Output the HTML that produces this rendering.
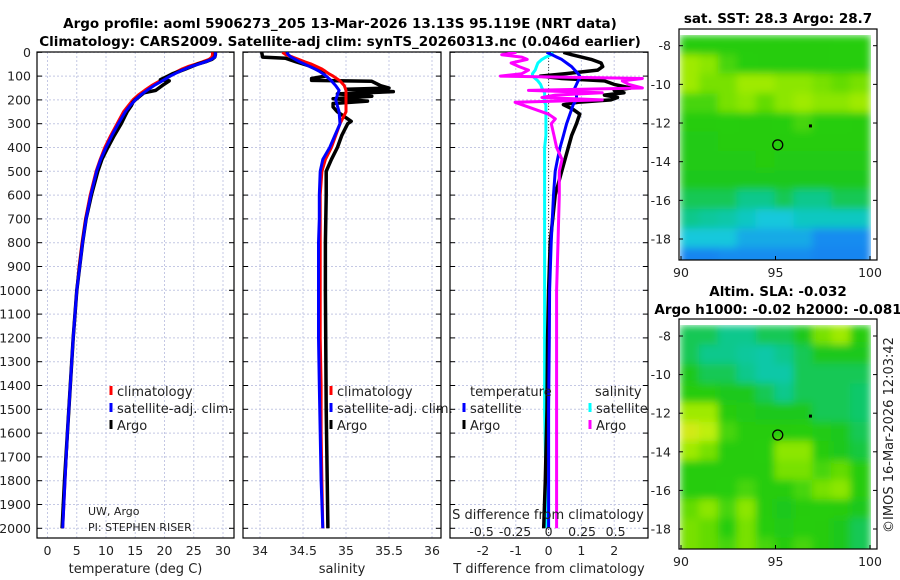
<!DOCTYPE html>
<html><head><meta charset="utf-8">
<style>
html,body{margin:0;padding:0;background:#fff;}
svg{display:block;font-family:"DejaVu Sans","Liberation Sans",sans-serif;}
</style></head>
<body>
<svg id="fig" width="900" height="580" viewBox="0 0 900 580">
<defs>
<filter id="blur1" x="0" y="0" width="1" height="1"><feGaussianBlur stdDeviation="4" edgeMode="duplicate"/></filter>
<clipPath id="clipT"><rect x="37" y="52" width="197" height="486"/></clipPath>
<clipPath id="clipS"><rect x="243" y="52" width="198" height="486"/></clipPath>
<clipPath id="clipD"><rect x="450" y="52" width="198" height="486"/></clipPath>
<clipPath id="clipM1"><rect x="679" y="29" width="198" height="231"/></clipPath>
<clipPath id="clipM2"><rect x="679" y="319" width="198" height="230"/></clipPath>
</defs>
<text x="340" y="28" text-anchor="middle" font-weight="bold" font-size="13.5">Argo profile: aoml 5906273_205 13-Mar-2026 13.13S 95.119E (NRT data)</text>
<text x="340" y="46" text-anchor="middle" font-weight="bold" font-size="13.5">Climatology: CARS2009. Satellite-adj clim: synTS_20260313.nc (0.046d earlier)</text>
<text x="778" y="23" text-anchor="middle" font-weight="bold" font-size="13.5">sat. SST: 28.3 Argo: 28.7</text>
<text x="778" y="296" text-anchor="middle" font-weight="bold" font-size="13.5">Altim. SLA: -0.032</text>
<text x="778" y="314" text-anchor="middle" font-weight="bold" font-size="13.5">Argo h1000: -0.02 h2000: -0.081</text>
<text transform="translate(893,435) rotate(-90)" text-anchor="middle" font-size="13" fill="#222">©IMOS 16-Mar-2026 12:03:42</text>
<g id="layer"></g>
</svg>
<script>
// ---- data ----
const depthsClim = [0,10,20,30,40,50,60,70,80,90,100,120,140,160,180,200,225,250,300,350,400,450,500,600,700,800,900,1000,1200,1400,1600,1800,2000];
const tempClim = [28.2,28.2,28.1,27.6,26.5,25.3,24.0,23.0,22.2,21.4,20.6,19.2,17.8,16.6,15.5,14.6,13.8,13.0,11.9,10.8,9.8,9.0,8.3,7.3,6.5,5.9,5.4,5.0,4.4,3.9,3.4,3.0,2.6];
const tempSat = [28.7,28.7,28.6,28.0,27.0,25.8,24.5,23.5,22.6,21.8,21.0,19.6,18.2,17.0,15.9,15.0,14.1,13.3,12.1,11.0,10.0,9.1,8.4,7.4,6.6,6.0,5.5,5.0,4.4,3.9,3.4,3.0,2.6];
const depthsArgo = [0,10,20,30,40,50,60,70,80,90,100,115,120,140,160,170,180,200,210,225,250,300,350,400,450,500,600,700,800,900,1000,1200,1400,1600,1800,2000];
const tempArgo = [28.7,28.7,28.6,28.1,27.0,25.6,24.6,23.6,22.6,21.4,20.6,19.3,20.8,19.6,18.5,16.5,16.0,15.0,14.6,14.3,13.6,12.6,11.4,10.3,9.3,8.6,7.5,6.6,6.0,5.5,5.0,4.4,3.9,3.4,2.9,2.5];
const salClim = [34.26,34.3,34.38,34.45,34.52,34.6,34.66,34.72,34.76,34.8,34.85,34.93,34.98,35.0,35.0,35.0,35.0,35.0,34.93,34.88,34.83,34.76,34.72,34.7,34.7,34.7,34.7,34.7,34.7,34.71,34.71,34.72,34.73];
const salSat = [34.31,34.33,34.36,34.41,34.46,34.52,34.58,34.64,34.69,34.73,34.77,34.83,34.88,34.92,34.9,34.88,34.9,34.92,34.93,34.87,34.81,34.73,34.7,34.69,34.69,34.68,34.68,34.68,34.68,34.69,34.7,34.71,34.73];
const depthsSalArgo = [0,20,25,40,60,80,100,110,118,122,140,150,155,165,175,185,195,205,215,230,250,270,290,300,350,400,450,500,600,800,1000,1500,2000];
const salArgo = [34.02,34.03,34.3,34.42,34.6,34.72,34.76,34.6,34.6,35.3,35.4,35.5,35.0,35.55,34.9,35.3,34.85,35.25,34.85,34.85,34.9,34.98,35.06,35.02,34.95,34.9,34.83,34.77,34.77,34.76,34.76,34.77,34.79];
const depthsDiff = [0,10,20,30,45,60,75,90,100,110,120,135,150,160,170,180,190,200,210,220,240,260,280,300,350,400,450,500,600,800,1000,1200,1500,1800,2000];
const dTsat = [-0.06,0.1,0.25,0.4,0.55,0.7,0.8,0.9,0.95,0.95,0.9,0.85,0.8,0.8,0.8,0.85,0.85,0.85,0.8,0.75,0.7,0.65,0.6,0.55,0.45,0.35,0.27,0.2,0.15,0.08,0.03,0.02,0.0,0.0,0.0];
const dTargo = [0.45,0.7,1.0,1.3,1.6,1.65,1.5,0.5,-0.25,0.4,1.7,2.0,2.5,2.0,2.3,1.7,2.1,1.9,0.9,0.45,0.75,0.95,0.9,0.85,0.7,0.6,0.5,0.4,0.2,0.05,0.0,-0.03,-0.05,-0.1,-0.15];
const dSsat = [0.03,0.02,-0.02,-0.05,-0.08,-0.09,-0.1,-0.12,-0.12,-0.1,-0.08,-0.06,-0.05,-0.04,-0.03,-0.03,-0.03,-0.03,-0.03,-0.02,-0.02,-0.02,-0.02,-0.02,-0.02,-0.03,-0.03,-0.03,-0.03,-0.03,-0.03,-0.03,-0.03,-0.02,-0.02];
const dSargo = [-0.24,-0.35,-0.2,-0.16,-0.28,-0.22,-0.15,-0.2,-0.36,0.7,0.55,0.6,0.7,-0.15,0.4,0.05,-0.05,0.4,-0.25,-0.2,-0.1,0.0,0.05,0.02,0.04,0.06,0.1,0.08,0.08,0.07,0.06,0.06,0.06,0.06,0.06];
const depthTicks = [0,100,200,300,400,500,600,700,800,900,1000,1100,1200,1300,1400,1500,1600,1700,1800,1900,2000];
const tempTicks = [0,5,10,15,20,25,30];
const salTicks = [34,34.5,35,35.5,36];
const salTickLabels = ["34","34.5","35","35.5","36"];
const dTTicks = [-2,-1,0,1,2];
const dSTickLabels = ["-0.5","-0.25","0","0.25","0.5"];
const dSTicks = [-0.5,-0.25,0,0.25,0.5];
const latTicks = [-8,-10,-12,-14,-16,-18];
const lonTicks = [90,95,100];
const mapLats = [-7.5,-8.5,-9.5,-10.5,-11.5,-12.5,-13.5,-14.5,-15.5,-16.5,-17.5,-18.5,-19.5];
const mapLons = [90,91,92,93,94,95,96,97,98,99,100];
const sstGrid = [
[0.6,0.6,0.6,0.6,0.6,0.6,0.6,0.6,0.62,0.62],
[0.75,0.72,0.65,0.62,0.6,0.6,0.6,0.6,0.62,0.62],
[0.75,0.7,0.7,0.75,0.75,0.72,0.72,0.7,0.68,0.7],
[0.65,0.65,0.7,0.72,0.68,0.72,0.75,0.72,0.72,0.75],
[0.6,0.6,0.62,0.6,0.6,0.62,0.65,0.62,0.62,0.6],
[0.58,0.58,0.6,0.6,0.6,0.6,0.6,0.6,0.6,0.6],
[0.58,0.58,0.58,0.58,0.6,0.58,0.58,0.58,0.58,0.58],
[0.55,0.55,0.55,0.55,0.55,0.55,0.55,0.55,0.55,0.55],
[0.5,0.5,0.5,0.45,0.45,0.5,0.45,0.45,0.5,0.5],
[0.45,0.42,0.4,0.35,0.3,0.3,0.35,0.35,0.35,0.35],
[0.3,0.3,0.3,0.25,0.25,0.25,0.25,0.2,0.2,0.2],
[0.15,0.15,0.2,0.2,0.2,0.2,0.2,0.15,0.15,0.15]];
const slaGrid = [
[0.5,0.5,0.45,0.45,0.5,0.5,0.55,0.7,0.75,0.6],
[0.5,0.45,0.45,0.42,0.4,0.45,0.5,0.55,0.55,0.55],
[0.55,0.5,0.5,0.45,0.4,0.4,0.5,0.5,0.5,0.5],
[0.6,0.6,0.55,0.55,0.5,0.45,0.5,0.5,0.5,0.48],
[0.75,0.75,0.6,0.58,0.55,0.55,0.55,0.5,0.5,0.48],
[0.85,0.8,0.65,0.6,0.6,0.6,0.62,0.58,0.55,0.5],
[0.75,0.7,0.6,0.6,0.62,0.72,0.72,0.6,0.55,0.52],
[0.6,0.6,0.6,0.6,0.6,0.7,0.7,0.65,0.68,0.6],
[0.6,0.6,0.62,0.65,0.6,0.6,0.65,0.7,0.72,0.6],
[0.68,0.72,0.65,0.72,0.6,0.55,0.6,0.62,0.6,0.55],
[0.7,0.68,0.62,0.7,0.62,0.58,0.62,0.6,0.55,0.5],
[0.7,0.68,0.65,0.7,0.65,0.6,0.65,0.6,0.55,0.5]];
const argoPos = [95.119,-13.13];

// ---- helpers ----
const NS="http://www.w3.org/2000/svg";
const layer=document.getElementById('layer');
function mk(tag,attrs,parent){const e=document.createElementNS(NS,tag);for(const k in attrs)e.setAttribute(k,attrs[k]);(parent||layer).appendChild(e);return e;}
const yD=d=>52.3+d*0.238;
const xT=t=>47.5+t*5.85;
const xS=s=>260+(s-34)*86;
const xDT=t=>548.6+t*32.8;
const xDS=s=>548.6+s*134;
function panel(x0,x1,xticks,xfun,labels,title,name){
  const g=mk('g',{});
  
  
  depthTicks.forEach(d=>{const y=yD(d);mk('line',{x1:x0,x2:x1,y1:y,y2:y,stroke:'#c4c8e4','stroke-width':1,'stroke-dasharray':'2,2'},g);
    mk('line',{x1:x0,x2:x0+5,y1:y,y2:y,stroke:'#000'},g);mk('line',{x1:x1-5,x2:x1,y1:y,y2:y,stroke:'#000'},g);});
  xticks.forEach((t,i)=>{const x=xfun(t);mk('line',{x1:x,x2:x,y1:52,y2:538,stroke:'#c4c8e4','stroke-width':1,'stroke-dasharray':'2,2'},g);
    if(labels){const tx=mk('text',{x:x,y:555,'text-anchor':'middle','font-size':12.5,fill:'#222'},g);tx.textContent=labels[i];
      }});
  mk('rect',{x:x0,y:52,width:x1-x0,height:486,fill:'none',stroke:'#000','stroke-width':1.2},g);
  const tt=mk('text',{x:(x0+x1)/2,y:573,'text-anchor':'middle','font-size':13,fill:'#222'},g);tt.textContent=title;
  
  return g;
}
function line(xs,ds,xfun,color,w,clip,name){
  const p=xs.map((v,i)=>(i?'L':'M')+xfun(v).toFixed(1)+','+yD(ds[i]).toFixed(1)).join('');
  const e=mk('path',{d:p,fill:'none',stroke:color,'stroke-width':w,'stroke-linejoin':'round','clip-path':'url(#'+clip+')'});
  
  
}
function txt(x,y,s,size,name,anchor){const t=mk('text',{x:x,y:y,'font-size':size||13,fill:'#222','text-anchor':anchor||'start'});t.textContent=s;
  
  return t;}
function legend(x,y,color,label){mk('rect',{x:x-1.5,y:y-6,width:3,height:9,fill:color});txt(x+6,y+4,label,13,'legend-entry');}

depthTicks.forEach(d=>{txt(31,yD(d)+4.5,String(d),12.5,'y-tick-label','end');});

panel(37,234,tempTicks,xT,tempTicks.map(String),'temperature (deg C)','temperature-panel');
line(tempClim,depthsClim,xT,'#f00',3,'clipT','temp-climatology-line');
line(tempArgo,depthsArgo,xT,'#000',3.5,'clipT','temp-argo-line');
line(tempSat,depthsClim,xT,'#00f',3,'clipT','temp-satellite-line');
legend(111,392,'#f00','climatology');legend(111,409,'#00f','satellite-adj. clim.');legend(111,426,'#000','Argo');
txt(88,515,'UW, Argo',11,'institution-label');txt(88,531,'PI: STEPHEN RISER',11,'pi-label');

panel(243,441,salTicks,xS,salTickLabels,'salinity','salinity-panel');
line(salArgo,depthsSalArgo,xS,'#000',3.5,'clipS','sal-argo-line');
line(salClim,depthsClim,xS,'#f00',3,'clipS','sal-climatology-line');
line(salSat,depthsClim,xS,'#00f',3,'clipS','sal-satellite-line');
legend(331,392,'#f00','climatology');legend(331,409,'#00f','satellite-adj. clim.');legend(331,426,'#000','Argo');

panel(450,648,dTTicks,xDT,dTTicks.map(String),'T difference from climatology','difference-panel');
mk('line',{x1:548.6,x2:548.6,y1:52,y2:538,stroke:'#444','stroke-dasharray':'1,2'});
line(dSsat,depthsDiff,xDS,'#0ff',3,'clipD','dS-satellite-line');
line(dTargo,depthsDiff,xDT,'#000',3.5,'clipD','dT-argo-line');
line(dTsat,depthsDiff,xDT,'#00f',3,'clipD','dT-satellite-line');
line(dSargo,depthsDiff,xDS,'#f0f',3,'clipD','dS-argo-line');
txt(470,396,'temperature',13,'legend-heading-temperature');txt(595,396,'salinity',13,'legend-heading-salinity');
legend(464,409,'#00f','satellite');legend(464,426,'#000','Argo');
legend(590,409,'#0ff','satellite');legend(590,426,'#f0f','Argo');
txt(548,519,'S difference from climatology',13,'s-axis-title','middle');
dSTicks.forEach((s,i)=>txt(xDS(s),536,dSTickLabels[i],12.5,'s-tick-label','middle'));

function cmap(v){
  const stops=[[0,[20,110,240]],[0.2,[20,140,240]],[0.3,[20,200,220]],[0.45,[10,200,140]],[0.55,[30,200,30]],[0.62,[40,205,10]],[0.72,[140,230,0]],[0.8,[190,240,10]],[0.92,[235,225,40]]];
  for(let i=1;i<stops.length;i++){if(v<=stops[i][0]){const a=stops[i-1],b=stops[i];const f=(v-a[0])/(b[0]-a[0]);
    return 'rgb('+a[1].map((c,j)=>Math.round(c+(b[1][j]-c)*f)).join(',')+')';}}
  return 'rgb(235,225,40)';
}
function map(grid,x0,y0,x1,y1,lat8y,lat18y,clip,name){
  const lx=l=>681+(l-90)*18.9;
  const ly=l=>lat8y+(-8-l)*(lat18y-lat8y)/10;
  const g=mk('g',{'clip-path':'url(#'+clip+')'});
  
  
  const inner=mk('g',{filter:'url(#blur1)'},g);
  grid.forEach((row,r)=>row.forEach((v,c)=>{
    const cell=mk('rect',{x:lx(mapLons[c])-1,y:ly(mapLats[r])-1,width:lx(mapLons[c+1])-lx(mapLons[c])+2,height:ly(mapLats[r+1])-ly(mapLats[r])+2,fill:cmap(v)},inner);
    
    
  }));
  mk('rect',{x:x0,y:y0,width:x1-x0,height:y1-y0,fill:'none',stroke:'#000','stroke-width':1.2});
  latTicks.forEach(l=>{const y=ly(l);mk('line',{x1:x0,x2:x0+4,y1:y,y2:y,stroke:'#000'});mk('line',{x1:x1-4,x2:x1,y1:y,y2:y,stroke:'#000'});
    txt(x0-8,y+4.5,String(l),12.5,'lat-tick-label','end');});
  lonTicks.forEach(l=>{const x=lx(l);mk('line',{x1:x,x2:x,y1:y1-4,y2:y1,stroke:'#000'});txt(x,y1+17,String(l),12.5,'lon-tick-label','middle');});
  const c=mk('circle',{cx:lx(argoPos[0]),cy:ly(argoPos[1]),r:5,fill:'none',stroke:'#000','stroke-width':1.3});
  
  
  mk('rect',{x:lx(96.85)-1.5,y:ly(-12.15)-1.5,width:3,height:3,fill:'#000'});
}
map(sstGrid,679,29,877,260,45.7,239,'clipM1','sst-map');
map(slaGrid,679,319,877,549,336,529,'clipM2','sla-map');
</script>
</body></html>
